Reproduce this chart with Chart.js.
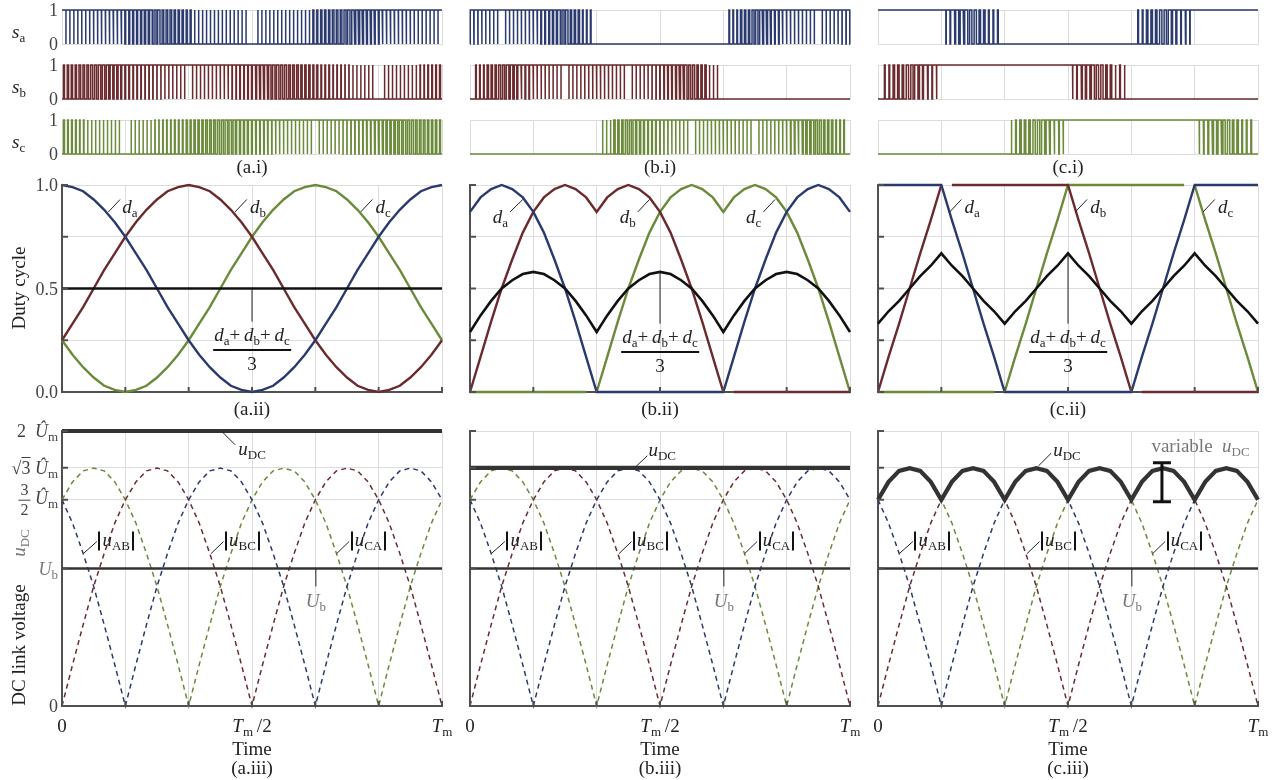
<!DOCTYPE html>
<html>
<head>
<meta charset="utf-8">
<script src="https://cdn.jsdelivr.net/npm/chart.js@4.4.1/dist/chart.umd.min.js"></script>
<style>
  body { margin: 0; background: #fff; }
  #fig { position: relative; width: 1283px; height: 780px; overflow: hidden; font-family: "Liberation Serif", "DejaVu Serif", serif; }
  #fig canvas { position: absolute; }
  .t { position: absolute; white-space: nowrap; line-height: 1; font-size: 19px; color: #222; }
  .t sub { font-size: 13px; vertical-align: -4px; line-height: 0; font-style: normal; }
  .tick { color: #444; font-size: 18px; }
  .gray { color: #777; }
  .bar { display: inline-block; width: 0; height: 19px; border-left: 2px solid #111; vertical-align: -5px; margin: 0 2px 0 0; }
  .bar.r { margin: 0 0 0 2px; }
  .rot { transform: translate(-50%, -50%) rotate(-90deg); }
  .frac { display: inline-flex; flex-direction: column; align-items: center; vertical-align: middle; line-height: 1.05; }
  .frac > span:first-child { border-bottom: 2px solid #111; padding: 0 1px 4px; margin-bottom: 3px; }
  .sfrac { display: inline-flex; flex-direction: column; align-items: center; vertical-align: middle; font-size: 16px; line-height: 1.05; }
  .sfrac > span:first-child { border-bottom: 1px solid #444; padding: 0 2px 1px; margin-bottom: 1px; }
</style>
</head>
<body>
<div id="fig"></div>
<script>
// sample angles over one fundamental period (degrees, 0 .. Tm)
const angles = [0,10,20,30,40,50,60,70,80,90,100,110,120,130,140,150,160,170,180,
  190,200,210,220,230,240,250,260,270,280,290,300,310,320,330,340,350,360];
const timeTicks = [0, 60, 120, 180, 240, 300, 360];
const dutyTicks = [0, 0.25, 0.5, 0.75, 1];
const switchTicks = [0, 1];
const voltTicks = [0, 1, 1.5, 1.732, 2];

// (a) sinusoidal modulation
const daA = [1.00,0.99,0.97,0.93,0.88,0.82,0.75,0.67,0.59,0.50,0.41,0.33,0.25,0.18,0.12,0.07,0.03,0.01,0.00,
  0.01,0.03,0.07,0.12,0.18,0.25,0.33,0.41,0.50,0.59,0.67,0.75,0.82,0.88,0.93,0.97,0.99,1.00];
const dbA = [0.25,0.33,0.41,0.50,0.59,0.67,0.75,0.82,0.88,0.93,0.97,0.99,1.00,0.99,0.97,0.93,0.88,0.82,0.75,
  0.67,0.59,0.50,0.41,0.33,0.25,0.18,0.12,0.07,0.03,0.01,0.00,0.01,0.03,0.07,0.12,0.18,0.25];
const dcA = [0.25,0.18,0.12,0.07,0.03,0.01,0.00,0.01,0.03,0.07,0.12,0.18,0.25,0.33,0.41,0.50,0.59,0.67,0.75,
  0.82,0.88,0.93,0.97,0.99,1.00,0.99,0.97,0.93,0.88,0.82,0.75,0.67,0.59,0.50,0.41,0.33,0.25];
const avgA = 0.5;

// (b) discontinuous modulation
const daB = [0.87,0.94,0.98,1.00,0.98,0.94,0.87,0.77,0.64,0.50,0.34,0.17,0.00,0,0,0,0,0,0,
  0,0,0,0,0,0.00,0.17,0.34,0.50,0.64,0.77,0.87,0.94,0.98,1.00,0.98,0.94,0.87];
const dbB = [0.00,0.17,0.34,0.50,0.64,0.77,0.87,0.94,0.98,1.00,0.98,0.94,0.87,0.94,0.98,1.00,0.98,0.94,0.87,
  0.77,0.64,0.50,0.34,0.17,0.00,0,0,0,0,0,0,0,0,0,0,0,0];
const dcB = [0,0,0,0,0,0,0,0,0,0,0,0,0.00,0.17,0.34,0.50,0.64,0.77,0.87,
  0.94,0.98,1.00,0.98,0.94,0.87,0.94,0.98,1.00,0.98,0.94,0.87,0.77,0.64,0.50,0.34,0.17,0.00];
const avgB = [0.29,0.37,0.44,0.50,0.54,0.57,0.58,0.57,0.54,0.50,0.44,0.37,0.29,0.37,0.44,0.50,0.54,0.57,0.58,
  0.57,0.54,0.50,0.44,0.37,0.29,0.37,0.44,0.50,0.54,0.57,0.58,0.57,0.54,0.50,0.44,0.37,0.29];
const dbBBreaks = [245];
const dcBBreaks = [115];

// (c) variable dc link
const daC = [1,1,1,1,1,1,1,0.83,0.67,0.50,0.33,0.17,0,0,0,0,0,0,0,
  0,0,0,0,0,0,0.17,0.33,0.50,0.67,0.83,1,1,1,1,1,1,1];
const dbC = [0,0.17,0.33,0.50,0.67,0.83,1,1,1,1,1,1,1,1,1,1,1,1,1,
  0.83,0.67,0.50,0.33,0.17,0,0,0,0,0,0,0,0,0,0,0,0,0];
const dcC = [0,0,0,0,0,0,0,0,0,0,0,0,0,0.17,0.33,0.50,0.67,0.83,1,
  1,1,1,1,1,1,1,1,1,1,1,1,0.83,0.67,0.50,0.33,0.17,0];
const avgC = [0.33,0.39,0.44,0.50,0.56,0.61,0.67,0.61,0.56,0.50,0.44,0.39,0.33,0.39,0.44,0.50,0.56,0.61,0.67,
  0.61,0.56,0.50,0.44,0.39,0.33,0.39,0.44,0.50,0.56,0.61,0.67,0.61,0.56,0.50,0.44,0.39,0.33];
const dbCBreaks = [65, 245];
const dcCBreaks = [115, 295];

// line-to-line voltages (in units of Um)
const uAB = [1.50,1.33,1.11,0.87,0.59,0.30,0,0.30,0.59,0.87,1.11,1.33,1.50,1.63,1.71,1.73,1.71,1.63,1.50,
  1.33,1.11,0.87,0.59,0.30,0,0.30,0.59,0.87,1.11,1.33,1.50,1.63,1.71,1.73,1.71,1.63,1.50];
const uBC = [0,0.30,0.59,0.87,1.11,1.33,1.50,1.63,1.71,1.73,1.71,1.63,1.50,1.33,1.11,0.87,0.59,0.30,0,
  0.30,0.59,0.87,1.11,1.33,1.50,1.63,1.71,1.73,1.71,1.63,1.50,1.33,1.11,0.87,0.59,0.30,0];
const uCA = [1.50,1.63,1.71,1.73,1.71,1.63,1.50,1.33,1.11,0.87,0.59,0.30,0,0.30,0.59,0.87,1.11,1.33,1.50,
  1.63,1.71,1.73,1.71,1.63,1.50,1.33,1.11,0.87,0.59,0.30,0,0.30,0.59,0.87,1.11,1.33,1.50];
const uDcA = 2.0;
const uDcB = 1.732;
const uDcC = [1.50,1.63,1.71,1.73,1.71,1.63,1.50,1.63,1.71,1.73,1.71,1.63,1.50,1.63,1.71,1.73,1.71,1.63,1.50,
  1.63,1.71,1.73,1.71,1.63,1.50,1.63,1.71,1.73,1.71,1.63,1.50,1.63,1.71,1.73,1.71,1.63,1.50];
const uB = 1.0;
const pulseCount = [96, 96, 84];

const BLUE = "#2b3a6e", RED = "#6b2a2e", GREEN = "#6b8a3a";
const INK = "#222", AXIS = "#505050", GRID = "#dcdcdc";
const fig = document.getElementById("fig");
const PAD = 8;
const colLeft = [62, 470, 878];
const plotW = 380;
const switchRows = [[10, 44], [65, 99], [120, 154]];
const dutyRow = [185, 392];
const voltRow = [431, 706];

function series(vals, breaks) {
  const pts = [];
  angles.forEach((a, i) => {
    if (breaks && i > 0) {
      breaks.filter((b) => b > angles[i - 1] && b < a).forEach((b) => pts.push({ x: b, y: null }));
    }
    pts.push({ x: a, y: vals[i] });
  });
  return pts;
}

function level(v) {
  return [{ x: 0, y: v }, { x: 360, y: v }];
}

// centred PWM pulses, one duty sample per carrier period (nearest sample)
function pulses(duty, n) {
  const pts = [];
  const step = 360 / n;
  const da = angles[1] - angles[0];
  for (let j = 0; j < n; j++) {
    const t0 = j * step, t1 = t0 + step, c = t0 + step / 2;
    const d = duty[Math.round(c / da)];
    if (d >= 0.995) {
      pts.push({ x: t0, y: 1 }, { x: t1, y: 1 });
    } else if (d <= 0.005) {
      pts.push({ x: t0, y: 0 }, { x: t1, y: 0 });
    } else {
      const h = (d * step) / 2;
      pts.push({ x: t0, y: 0 }, { x: c - h, y: 0 }, { x: c - h, y: 1 },
        { x: c + h, y: 1 }, { x: c + h, y: 0 }, { x: t1, y: 0 });
    }
  }
  return pts;
}

function extras(o) {
  return {
    id: "extras",
    afterDatasetsDraw(chart) {
      const { ctx, chartArea: a } = chart;
      const x = chart.scales.x, y = chart.scales.y;
      ctx.save();
      if (o.inTicks) {
        ctx.strokeStyle = AXIS;
        ctx.lineWidth = 2;
        ctx.beginPath();
        timeTicks.forEach((v) => {
          const px = x.getPixelForValue(v);
          ctx.moveTo(px, a.bottom);
          ctx.lineTo(px, a.bottom - 5);
        });
        o.yTicks.forEach((v) => {
          const py = y.getPixelForValue(v);
          ctx.moveTo(a.left, py);
          ctx.lineTo(a.left + 6, py);
        });
        ctx.stroke();
      }
      (o.leaders || []).forEach((l) => {
        ctx.strokeStyle = INK;
        ctx.lineWidth = 1;
        ctx.beginPath();
        ctx.moveTo(x.getPixelForValue(l[0]), y.getPixelForValue(l[1]));
        ctx.lineTo(x.getPixelForValue(l[2]), y.getPixelForValue(l[3]));
        ctx.stroke();
      });
      if (o.rangeBar) {
        const [ang, lo, hi] = o.rangeBar;
        const px = x.getPixelForValue(ang);
        const p1 = y.getPixelForValue(lo), p2 = y.getPixelForValue(hi);
        ctx.strokeStyle = "#111";
        ctx.lineWidth = 3;
        ctx.beginPath();
        ctx.moveTo(px, p1); ctx.lineTo(px, p2);
        ctx.moveTo(px - 9, p1); ctx.lineTo(px + 9, p1);
        ctx.moveTo(px - 9, p2); ctx.lineTo(px + 9, p2);
        ctx.stroke();
      }
      ctx.restore();
    },
  };
}

function makeChart(left, row, o) {
  const h = row[1] - row[0];
  const cv = document.createElement("canvas");
  cv.width = plotW + 2 * PAD;
  cv.height = h + 2 * PAD;
  cv.style.left = left - PAD + "px";
  cv.style.top = row[0] - PAD + "px";
  fig.appendChild(cv);
  const axis = { color: o.axisColor, width: o.axisWidth };
  return new Chart(cv, {
    type: "line",
    data: { datasets: o.datasets },
    options: {
      responsive: false,
      animation: false,
      devicePixelRatio: 1,
      layout: { padding: PAD, autoPadding: false },
      plugins: { legend: { display: false }, tooltip: { enabled: false } },
      elements: { point: { radius: 0 }, line: { tension: 0, borderCapStyle: "butt", fill: false } },
      scales: {
        x: {
          type: "linear", min: 0, max: 360,
          afterBuildTicks: (s) => { s.ticks = timeTicks.map((v) => ({ value: v })); },
          afterFit: (s) => { s.height = 0; },
          ticks: { display: false },
          grid: { color: GRID, drawTicks: false },
          border: axis,
        },
        y: {
          type: "linear", min: o.yTicks[0], max: o.yTicks[o.yTicks.length - 1],
          afterBuildTicks: (s) => { s.ticks = o.yTicks.map((v) => ({ value: v })); },
          afterFit: (s) => { s.width = 0; },
          ticks: { display: false },
          grid: { color: GRID, drawTicks: false },
          border: axis,
        },
      },
    },
    plugins: [extras(o)],
  });
}

function line(data, color, width, dash) {
  return { data, borderColor: color, borderWidth: width, borderDash: dash || [], clip: false, pointRadius: 0 };
}

function text(chart, xv, yv, html, ax, ay, dx, dy, cls) {
  const c = chart.canvas;
  const px = parseFloat(c.style.left) + chart.scales.x.getPixelForValue(xv) + (dx || 0);
  const py = parseFloat(c.style.top) + chart.scales.y.getPixelForValue(yv) + (dy || 0);
  const d = document.createElement("div");
  d.className = "t " + (cls || "");
  d.innerHTML = html;
  d.style.left = px + "px";
  d.style.top = py + "px";
  d.style.transform = `translate(${-ax * 100}%, ${-ay * 100}%)`;
  fig.appendChild(d);
}

function page(x, y, html, cls) {
  const d = document.createElement("div");
  d.className = "t " + (cls || "");
  d.innerHTML = html;
  d.style.left = x + "px";
  d.style.top = y + "px";
  fig.appendChild(d);
}

const v = (s, sub) => `<i>${s}</i><sub>${sub}</sub>`;
const Um = v("Û", "m");
const fracDuty = `<span class="frac"><span>${v("d", "a")}+&thinsp;${v("d", "b")}+&thinsp;${v("d", "c")}</span><span>3</span></span>`;

const letters = ["a", "b", "c"];
const dutySets = [[daA, dbA, dcA], [daB, dbB, dcB], [daC, dbC, dcC]];
const dutyBreaks = [[[], [], []], [[], dbBBreaks, dcBBreaks], [[], dbCBreaks, dcCBreaks]];
const avgSets = [level(avgA), series(avgB), series(avgC)];
const uDcSets = [level(uDcA), level(uDcB), series(uDcC)];
const colors = [BLUE, RED, GREEN];

// label placement per panel (data coordinates)
const dutyNotes = [
  { leaders: [[44, 0.87, 55, 0.93], [164, 0.87, 175, 0.93], [283, 0.87, 294, 0.93], [180, 0.5, 180, 0.34]],
    names: [[57, 0.9, 0], [178, 0.9, 0], [297, 0.9, 0]] },
  { leaders: [[38, 0.87, 50, 0.93], [159, 0.87, 170, 0.93], [278, 0.87, 289, 0.93], [180, 0.58, 180, 0.33]],
    names: [[36, 0.85, 1], [157, 0.85, 1], [276, 0.85, 1]] },
  { leaders: [[68, 0.87, 79, 0.93], [187, 0.87, 198, 0.93], [308, 0.87, 319, 0.93], [180, 0.667, 180, 0.33]],
    names: [[82, 0.9, 0], [201, 0.9, 0], [322, 0.9, 0]] },
];
const voltNotes = [
  { dc: [151, 2.0, 164, 1.9], dcText: [167, 1.88] },
  { dc: [157, 1.74, 168, 1.82], dcText: [169, 1.87] },
  { dc: [152, 1.746, 164, 1.838], dcText: [166, 1.87] },
];
const absLeaders = [[20, 1.107, 33, 1.196], [141, 1.107, 153, 1.196], [260, 1.107, 272, 1.196]];
const absNames = ["AB", "BC", "CA"];

for (let col = 0; col < 3; col++) {
  const left = colLeft[col];
  const L = letters[col];

  // switching functions
  let last;
  for (let p = 0; p < 3; p++) {
    const ch = makeChart(left, switchRows[p], {
      yTicks: switchTicks, axisColor: GRID, axisWidth: 1,
      datasets: [line(pulses(dutySets[col][p], pulseCount[col]), colors[p], 1.5)],
    });
    if (col === 0) {
      text(ch, 0, 1, "1", 1, 0.5, -4, 0, "tick");
      text(ch, 0, 0, "0", 1, 0.5, -4, 0, "tick");
      text(ch, 0, 0.5, v("s", letters[p]), 0, 0.5, -50, 4);
    }
    last = ch;
  }
  text(last, 180, 0, `(${L}.i)`, 0.5, 0.5, 0, 12);

  // duty cycles
  const n = dutyNotes[col];
  const duty = makeChart(left, dutyRow, {
    yTicks: dutyTicks, axisColor: AXIS, axisWidth: 2, inTicks: true, leaders: n.leaders,
    datasets: [
      line(avgSets[col], "#111", 2.6),
      line(series(dutySets[col][0], dutyBreaks[col][0]), BLUE, 2.4),
      line(series(dutySets[col][1], dutyBreaks[col][1]), RED, 2.4),
      line(series(dutySets[col][2], dutyBreaks[col][2]), GREEN, 2.4),
    ],
  });
  n.names.forEach((nm, i) => text(duty, nm[0], nm[1], v("d", letters[i]), nm[2], 0.5));
  text(duty, 180, n.leaders[3][3], fracDuty, 0.5, 0, 0, 3);
  text(duty, 180, 0, `(${L}.ii)`, 0.5, 0.5, 0, 16);
  if (col === 0) {
    text(duty, 0, 1, "1.0", 1, 0.5, -4, 0, "tick");
    text(duty, 0, 0.5, "0.5", 1, 0.5, -4, 0, "tick");
    text(duty, 0, 0, "0.0", 1, 0.5, -4, 0, "tick");
  }

  // dc link voltage
  const vn = voltNotes[col];
  const leaders = absLeaders.concat([vn.dc, [240.5, uB, 240.5, 0.87]]);
  const volt = makeChart(left, voltRow, {
    yTicks: voltTicks, axisColor: AXIS, axisWidth: 2, inTicks: true, leaders,
    rangeBar: col === 2 ? [269, 1.486, 1.77] : null,
    datasets: [
      line(uDcSets[col], "#333", 4.2),
      line(level(uB), "#333", 2.6),
      line(series(uAB), BLUE, 1.5, [5, 4]),
      line(series(uBC), RED, 1.5, [5, 4]),
      line(series(uCA), GREEN, 1.5, [5, 4]),
    ],
  });
  absLeaders.forEach((l, i) => text(volt, l[2] + 1.5, 1.21,
    `<span class="bar"></span>${v("u", absNames[i])}<span class="bar r"></span>`, 0, 0.5));
  text(volt, vn.dcText[0], vn.dcText[1], v("u", "DC"), 0, 0.5);
  text(volt, 240.5, 0.77, v("U", "b"), 0.5, 0.5, 0, 0, "gray");
  if (col === 2) text(volt, 259, 1.9, `variable&nbsp;&nbsp;${v("u", "DC")}`, 0, 0.5, 0, 0, "gray");
  text(volt, 0, 0, "0", 0.5, 0.5, 0, 19);
  text(volt, 180, 0, `${v("T", "m")}&thinsp;/2`, 0.5, 0.5, 0, 19);
  text(volt, 360, 0, v("T", "m"), 0.5, 0.5, 0, 19);
  text(volt, 180, 0, "Time", 0.5, 0.5, 0, 42);
  text(volt, 180, 0, `(${L}.iii)`, 0.5, 0.5, 0, 61);
  if (col === 0) {
    text(volt, 0, 2, `2&nbsp;&nbsp;${Um}`, 1, 0.5, -4, 0, "tick");
    text(volt, 0, 1.732, `√<span style="border-top:1px solid #444">3</span>&nbsp;${Um}`, 1, 0.5, -4, 0, "tick");
    text(volt, 0, 1.5, `<span class="sfrac"><span>3</span><span>2</span></span>&nbsp;${Um}`, 1, 0.5, -4, 0, "tick");
    text(volt, 0, uB, v("U", "b"), 1, 0.5, -4, 0, "tick gray");
    text(volt, 0, 0, "0", 1, 0.5, -4, 0, "tick");
  }
}

// rotated axis titles
page(18, 288, "Duty cycle", "rot");
page(18, 645, "DC link voltage", "rot");
page(18, 543, v("u", "DC"), "rot gray");
</script>
</body>
</html>
